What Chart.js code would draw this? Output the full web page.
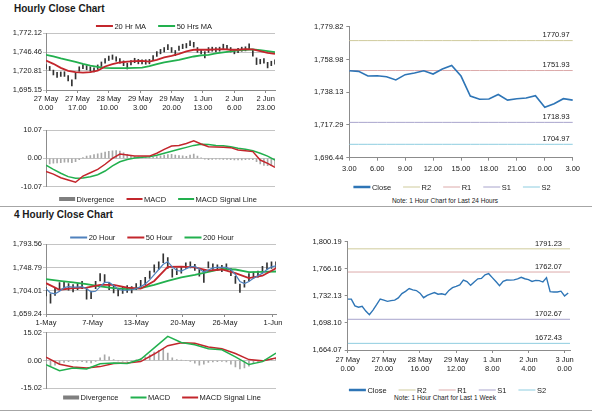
<!DOCTYPE html>
<html>
<head>
<meta charset="utf-8">
<script src="https://cdn.jsdelivr.net/npm/chart.js@4.4.0/dist/chart.umd.min.js"></script>
<style>
  body { margin: 0; background: #fff; }
  #wrap { position: relative; width: 600px; height: 413px; overflow: hidden; font-family: "Liberation Sans", Arial, sans-serif; color: #1a1a1a; }
  canvas { position: absolute; left: 0; top: 0; }
  .title { position: absolute; left: 14px; font-weight: bold; font-size: 10px; line-height: 12px; }
  .note { position: absolute; font-size: 6.5px; line-height: 8px; transform: translateX(-50%); white-space: nowrap; }
  .rule { position: absolute; left: 0; width: 592px; height: 1px; background: #a6a6a6; }
</style>
</head>
<body>
<div id="wrap">
  <div class="title" style="top:3px">Hourly Close Chart</div>
  <div class="title" style="top:209px">4 Hourly Close Chart</div>
  <div class="note" style="left:445px;top:197px">Note: 1 Hour Chart for Last 24 Hours</div>
  <div class="note" style="left:445px;top:394px">Note: 1 Hour Chart for Last 1 Week</div>
  <div class="rule" style="top:206px"></div>
  <div class="rule" style="top:410px"></div>
  <canvas id="tlPrice" width="600" height="413"></canvas>
  <canvas id="tlMacd" width="600" height="413"></canvas>
  <canvas id="trClose" width="600" height="413"></canvas>
  <canvas id="blPrice" width="600" height="413"></canvas>
  <canvas id="blMacd" width="600" height="413"></canvas>
  <canvas id="brClose" width="600" height="413"></canvas>
</div>
<script>
// ---- hourly (top left), one bar every 2 hours, MAs every 4 hours
const tlTickIdx = [0, 17, 34, 51, 68, 85, 102, 119];
const tlTickLabels = ['27 May|0.00', '27 May|17.00', '28 May|10.00', '29 May|3.00', '29 May|20.00', '1 Jun|13.00', '2 Jun|6.00', '2 Jun|23.00'];
const tlPriceTicks = [1695.15, 1720.81, 1746.46, 1772.12];
const tlHigh = [1729.5,1727.0,1722.0,1719.0,1719.5,1719.8,1714.5,1709.0,1718.0,1726.5,
  1729.5,1728.0,1726.5,1725.0,1729.0,1733.0,1737.5,1741.0,1742.5,1740.0,
  1737.5,1734.5,1731.5,1735.0,1738.0,1736.5,1736.0,1736.0,1736.5,1741.5,
  1747.0,1750.0,1752.5,1756.5,1752.5,1748.5,1754.5,1757.0,1758.0,1761.5,
  1759.5,1752.5,1750.0,1747.0,1752.5,1753.0,1752.5,1753.0,1757.0,1755.5,
  1752.5,1750.0,1751.5,1753.0,1753.5,1757.5,1750.0,1738.5,1736.5,1737.5,
  1732.5,1734.0,1736.0];
const tlLow = [1723.5,1721.5,1715.5,1712.0,1713.5,1713.5,1707.5,1700.5,1710.0,1720.5,
  1724.0,1722.5,1720.5,1719.5,1723.0,1727.0,1731.5,1735.0,1736.5,1734.0,
  1731.5,1728.0,1723.5,1729.0,1732.0,1730.5,1730.5,1730.0,1730.5,1735.0,
  1740.5,1744.0,1746.5,1749.5,1746.0,1741.5,1748.5,1751.0,1752.0,1755.0,
  1753.0,1746.0,1744.0,1738.5,1746.0,1747.5,1746.5,1747.5,1751.0,1749.5,
  1746.5,1744.0,1745.5,1747.5,1748.0,1750.5,1741.0,1729.5,1730.5,1731.5,
  1725.0,1728.0,1730.0];
const tlMa20 = [1735.0,1730.5,1725.0,1721.0,1719.2,1718.7,1719.2,1721.4,1726.9,1730.0,
  1732.3,1733.6,1734.1,1734.5,1733.6,1735.9,1739.1,1741.3,1744.0,1747.2,
  1749.5,1749.5,1749.5,1749.9,1750.4,1749.5,1749.5,1750.4,1749.9,1747.7,
  1745.4,1744.0];
const tlMa50 = [1742.7,1740.4,1737.7,1735.5,1733.2,1730.5,1728.2,1726.4,1725.0,1724.6,
  1724.6,1724.6,1725.0,1725.5,1727.3,1730.0,1732.3,1734.1,1735.9,1738.2,
  1740.4,1741.8,1742.7,1744.5,1745.9,1747.2,1748.6,1749.5,1749.9,1749.0,
  1747.7,1746.3];
const tlMacdTicks = [-10.07, 0, 10.07];
const tlMacd = [-4.7,-5.6,-6.9,-7.7,-8.5,-6.3,-5.1,-3.9,-2.1,0.0,
  1.5,1.2,0.8,0.8,0.8,1.8,3.2,4.4,4.6,5.3,
  6.2,5.1,4.1,4.0,3.9,3.8,3.0,2.7,2.4,-0.6,
  -1.8,-3.2];
const tlSignal = [-2.4,-3.9,-5.3,-6.5,-7.1,-7.0,-6.5,-5.8,-4.5,-2.7,
  -1.2,-0.4,0.1,0.4,0.6,1.1,1.8,2.5,3.2,3.9,
  4.6,5.0,4.9,4.6,4.5,4.1,3.6,3.2,2.7,1.8,
  0.8,-0.6];
const tlDiv = [-2.3,-2.0,-1.7,-1.6,-1.5,-1.4,-1.4,-1.5,-1.2,-0.5,
  0.3,0.8,1.0,1.3,1.6,1.9,2.2,2.5,2.7,2.8,
  2.6,2.0,1.4,0.9,0.6,0.5,0.4,0.3,0.3,0.4,
  0.6,0.9,1.2,1.3,1.4,1.2,1.0,0.9,0.7,1.2,
  1.5,0.8,0.2,-0.3,-0.5,-0.4,-0.3,-0.3,-0.4,-0.4,
  -0.5,-0.6,-0.6,-0.6,-0.5,-0.4,-0.5,-1.2,-2.0,-2.5,
  -2.6,-2.6,-2.6];

// ---- last 24 hours (top right)
const trHours = ['3.00','4.00','5.00','6.00','7.00','8.00','9.00','10.00','11.00','12.00','13.00','14.00',
  '15.00','16.00','17.00','18.00','19.00','20.00','21.00','22.00','23.00','0.00','1.00','2.00','3.00'];
const trClose = [1751.8,1751.4,1748.4,1748.6,1748.0,1745.9,1749.3,1750.3,1751.8,1749.7,1752.9,1755.2,
  1748.4,1735.7,1733.6,1733.8,1736.7,1733.1,1734.0,1734.4,1735.9,1728.5,1730.8,1734.0,1733.1];
const trTicks = [1696.44, 1717.29, 1738.13, 1758.98, 1779.82];
const trLevels = [1770.97, 1751.93, 1718.93, 1704.97]; // R2 R1 S1 S2

// ---- 4 hourly (bottom left), bars every 3 steps, MAs every 9 steps
const blTickIdx = [0, 31, 60, 91, 119, 151];
const blTickLabels = ['1-May', '7-May', '13-May', '20-May', '26-May', '1-Jun'];
const blPriceTicks = [1659.24, 1704.01, 1748.79, 1793.56];
const blHigh = [1710,1698,1710,1720,1721,1718,1716,1718,1722,1708,1703,1722,1737,1735,1720,1713,1708,1712,1714,1712,
  1718,1724,1730,1742,1754,1760,1775,1768,1746,1747,1750,1758,1760,1755,1745,1745,1760,1756,1754,1753,
  1756,1747,1732,1717,1724,1737,1740,1742,1751,1758,1760,1760];
const blLow = [1694,1680,1695,1707,1709,1705,1702,1706,1708,1688,1689,1708,1723,1721,1706,1700,1694,1699,1701,1700,
  1706,1711,1716,1728,1740,1745,1758,1747,1730,1735,1738,1747,1748,1743,1732,1720,1748,1745,1743,1741,
  1744,1733,1718,1701,1711,1723,1728,1730,1738,1745,1747,1749];
const bl20 = [1708,1700,1698,1703,1710,1712,1711,1711,1712,1708,1702,1703,1712,1720,1720,1714,1707,1705,1705,1706,
  1708,1712,1717,1725,1735,1745,1755,1760,1750,1743,1742,1746,1750,1751,1746,1740,1744,1748,1749,1749,
  1749,1745,1735,1722,1718,1722,1728,1733,1738,1745,1750,1752];
const bl50 = [1718.7,1706,1709,1710,1715.5,1715.5,1710,1708,1723,1750,1750.7,1749,1743,1745,1738,1728.3,1733,1747.5];
const bl200 = [1726.4,1723.2,1720,1716.7,1712.3,1709,1707.2,1709,1715.5,1723,1729.6,1734.5,1740.5,1746,1745,1740,1740.5,1741.1];
const blMacdTicks = [-15.02, 0, 15.02];
const blMacd = [-2.3,-5.5,-4.1,-4.6,-1.8,-1.3,-1.6,0.7,6.8,13.0,9.7,8.5,6.4,5.8,2.0,-2.2,-0.6,4.0];
const blSignal = [1.8,-2.0,-3.5,-4.0,-3.3,-1.6,-1.4,-0.6,3.5,8.0,9.6,9.3,7.3,6.3,3.8,0.5,-0.2,1.3];
const blDiv = [-3,-3.2,-2.5,-1.8,-1.0,-0.6,-0.4,-0.3,-0.6,-1.0,
  -1.3,-0.5,1.5,3.0,2.0,0.5,-0.2,-0.3,-0.3,-0.2,
  0.3,1.0,2.0,3.0,4.5,5.5,6.0,4.0,1.5,0.5,
  0.2,0.0,-0.5,-1.5,-2.5,-2.0,-1.0,-0.8,-0.6,-0.5,
  -0.8,-2.0,-3.5,-4.5,-4.0,-3.0,-1.5,-0.5,0.0,0.5,
  1.0,1.5];

// ---- last week (bottom right), close every 2 hours
const brTickIdx = [0, 20, 40, 60, 80, 100, 120];
const brTickLabels = ['27 May|0.00', '27 May|20.00', '28 May|16.00', '29 May|12.00', '1 Jun|8.00', '2 Jun|4.00', '3 Jun|0.00'];
const brClose = [1728.0,1728.0,1719.5,1717.9,1719.0,1713.0,1708.5,1714.2,1721.0,1728.2,
  1726.8,1725.2,1726.2,1726.8,1729.5,1735.0,1737.8,1741.3,1739.6,1738.8,
  1735.5,1729.8,1732.6,1734.6,1736.3,1734.2,1734.7,1733.6,1739.0,1742.5,
  1744.1,1746.0,1752.0,1750.0,1745.3,1749.5,1753.5,1754.0,1758.5,1760.0,
  1755.0,1750.1,1745.0,1750.5,1752.0,1751.9,1752.2,1753.5,1755.4,1753.6,
  1752.5,1750.3,1751.5,1751.3,1749.5,1755.0,1737.5,1737.0,1737.0,1738.0,
  1732.0,1735.8];
const brTicks = [1664.07, 1698.10, 1732.13, 1766.16, 1800.19];
const brLevels = [1791.23, 1762.07, 1702.67, 1672.43];

const levelNames = ['R2', 'R1', 'S1', 'S2'];
const levelColors = ['#cfcb9c', '#dcaaaa', '#a8a4cc', '#8ecde0'];

const RED = '#c3262c', GREEN = '#22b04e', BLUE = '#2e75b6', LIGHTBLUE = '#4f81bd';
const AXIS = '#8c8c8c', GRID = '#c4c4c4';
const FONT = '"Liberation Sans", Arial, sans-serif';

Chart.defaults.font.family = FONT;
Chart.defaults.font.size = 7.5;
Chart.defaults.color = '#1a1a1a';
Chart.defaults.animation = false;
Chart.defaults.plugins.legend.display = false;
Chart.defaults.plugins.tooltip.enabled = false;

const fmt = v => Number(v).toLocaleString('en-US', { minimumFractionDigits: 2, maximumFractionDigits: 2 });
const pts = (vals, step) => vals.map((v, i) => ({ x: i * step, y: v }));
const spans = (lo, hi, step) => lo.map((v, i) => ({ x: i * step, y: [v, hi[i]] }));

// legend drawn as one row of line/box samples
const rowLegend = {
  id: 'rowLegend',
  afterDraw(chart, args, o) {
    if (o.cy == null) return;
    const ctx = chart.ctx;
    const items = chart.data.datasets.filter(d => d.label);
    ctx.save();
    ctx.font = '7.5px ' + FONT;
    ctx.textBaseline = 'middle';
    const L = o.lineLen || 17, gap = 1.5, sep = o.sep || 12;
    const w = items.map(d => L + gap + ctx.measureText(d.label).width);
    let x = o.cx - (w.reduce((a, b) => a + b, 0) + sep * (items.length - 1)) / 2;
    items.forEach((d, i) => {
      const c = d.legendColor || d.borderColor;
      if (d.type === 'bar') {
        ctx.fillStyle = c;
        ctx.fillRect(x, o.cy - 2, L, 4);
      } else {
        ctx.strokeStyle = c;
        ctx.lineWidth = d.legendWidth || 2;
        ctx.beginPath();
        ctx.moveTo(x, o.cy);
        ctx.lineTo(x + L, o.cy);
        ctx.stroke();
      }
      ctx.fillStyle = '#1a1a1a';
      ctx.fillText(d.label, x + L + gap, o.cy + 0.5);
      x += w[i] + sep;
    });
    ctx.restore();
  }
};

// value written above each support / resistance line
const levelLabels = {
  id: 'levelLabels',
  afterDatasetsDraw(chart, args, o) {
    if (!o.values) return;
    const { ctx, chartArea } = chart, y = chart.scales.y;
    ctx.save();
    ctx.font = '7.5px ' + FONT;
    ctx.textAlign = 'right';
    ctx.textBaseline = 'bottom';
    ctx.fillStyle = '#1a1a1a';
    o.values.forEach(v => ctx.fillText(v.toFixed(2), chartArea.right - o.inset, y.getPixelForValue(v) - 1.5));
    ctx.restore();
  }
};

function yScale(ticks, grid, pad) {
  return {
    type: 'linear', min: ticks[0], max: ticks[ticks.length - 1],
    afterBuildTicks: s => { s.ticks = ticks.map(v => ({ value: v })); },
    afterFit: s => { s.width = 40; },
    border: { color: AXIS },
    grid: { color: GRID, drawOnChartArea: grid, tickLength: 3, tickColor: grid ? GRID : AXIS },
    ticks: { padding: pad, callback: v => fmt(v) }
  };
}

function xIndex(max, idx, labels, pad) {
  return {
    type: 'linear', min: 0, max, offset: false,
    afterBuildTicks: s => { s.ticks = idx.map(v => ({ value: v })); },
    afterFit: s => { s.height = 25; },
    border: { color: AXIS },
    grid: { drawOnChartArea: false, tickLength: 3, tickColor: AXIS, offset: false },
    ticks: { padding: pad, maxRotation: 0, autoSkip: false, callback: v => labels[idx.indexOf(v)].split('|') }
  };
}

function pad(box, xh) {
  return { left: box.l - 40, top: box.t, right: 600 - box.r, bottom: 413 - box.b - xh };
}

// horizontal support/resistance lines, given as the points the line passes
function levelSets(levels, xs) {
  return levels.map((v, i) => ({
    type: 'line', label: levelNames[i], data: xs.map(x => (x === null ? v : { x, y: v })),
    borderColor: levelColors[i], borderWidth: 1, legendWidth: 1, pointRadius: 0
  }));
}

// top left price
new Chart(document.getElementById('tlPrice'), {
  type: 'line',
  data: { datasets: [
    { label: '20 Hr MA', data: pts(tlMa20, 4), borderColor: RED, borderWidth: 1.8, pointRadius: 0 },
    { label: '50 Hrs MA', data: pts(tlMa50, 4), borderColor: GREEN, borderWidth: 1.8, pointRadius: 0 },
    { type: 'bar', data: spans(tlLow, tlHigh, 2), backgroundColor: '#333', barThickness: 1 }
  ]},
  options: {
    responsive: false,
    layout: { padding: pad({ l: 46, t: 33, r: 275, b: 90 }, 25) },
    scales: { x: xIndex(124, tlTickIdx, tlTickLabels, 1.5), y: yScale(tlPriceTicks, true, 1) },
    plugins: { rowLegend: { cx: 154, cy: 26 } }
  },
  plugins: [rowLegend]
});

// top left MACD
new Chart(document.getElementById('tlMacd'), {
  type: 'line',
  data: { datasets: [
    { type: 'bar', label: 'Divergence', data: pts(tlDiv, 2), backgroundColor: '#a8a8a8', legendColor: '#7f7f7f', barThickness: 1, order: 3 },
    { label: 'MACD', data: pts(tlMacd, 4), borderColor: RED, borderWidth: 1.5, pointRadius: 0, order: 1 },
    { label: 'MACD Signal Line', data: pts(tlSignal, 4), borderColor: GREEN, borderWidth: 1.5, pointRadius: 0, order: 2 }
  ]},
  options: {
    responsive: false,
    layout: { padding: pad({ l: 46, t: 130, r: 275, b: 186.7 }, 0) },
    scales: { x: { type: 'linear', min: 0, max: 124, display: false, offset: false }, y: yScale(tlMacdTicks, true, 1) },
    plugins: { rowLegend: { cx: 158, cy: 199, lineLen: 16 } }
  },
  plugins: [rowLegend]
});

// top right, last 24 hours (category axis: one value per hour label)
new Chart(document.getElementById('trClose'), {
  type: 'line',
  data: { labels: trHours, datasets: [
    { label: 'Close', data: trClose, borderColor: BLUE, borderWidth: 1.6, legendWidth: 2.5, pointRadius: 0 },
    ...levelSets(trLevels, trHours.map(() => null))
  ]},
  options: {
    responsive: false,
    layout: { padding: pad({ l: 349.3, t: 26.7, r: 572.7, b: 157.7 }, 25) },
    scales: {
      x: {
        type: 'category', offset: false,
        afterBuildTicks: s => { s.ticks = s.ticks.filter(t => t.value % 3 === 0); },
        afterFit: s => { s.height = 25; },
        border: { color: AXIS },
        grid: { drawOnChartArea: false, tickLength: 3, tickColor: AXIS, offset: false },
        ticks: { padding: 4, maxRotation: 0, autoSkip: false }
      },
      y: yScale(trTicks, false, 3)
    },
    plugins: { rowLegend: { cx: 452, cy: 187 }, levelLabels: { values: trLevels, inset: 3 } }
  },
  plugins: [rowLegend, levelLabels]
});

// bottom left price
new Chart(document.getElementById('blPrice'), {
  type: 'line',
  data: { datasets: [
    { label: '20 Hour', data: pts(bl20, 3), borderColor: LIGHTBLUE, borderWidth: 1.2, pointRadius: 0 },
    { label: '50 Hour', data: pts(bl50, 9), borderColor: RED, borderWidth: 1.8, pointRadius: 0 },
    { label: '200 Hour', data: pts(bl200, 9), borderColor: GREEN, borderWidth: 1.8, pointRadius: 0 },
    { type: 'bar', data: spans(blLow, blHigh, 3), backgroundColor: '#333', barThickness: 1 }
  ]},
  options: {
    responsive: false,
    layout: { padding: pad({ l: 46, t: 244.3, r: 276, b: 314 }, 25) },
    scales: { x: xIndex(153, blTickIdx, blTickLabels, 1), y: yScale(blPriceTicks, true, 1) },
    plugins: { rowLegend: { cx: 152, cy: 237.5 } }
  },
  plugins: [rowLegend]
});

// bottom left MACD
new Chart(document.getElementById('blMacd'), {
  type: 'line',
  data: { datasets: [
    { type: 'bar', label: 'Divergence', data: pts(blDiv, 3), backgroundColor: '#a8a8a8', legendColor: '#7f7f7f', barThickness: 1, order: 3 },
    { label: 'MACD', data: pts(blMacd, 9), borderColor: GREEN, borderWidth: 1.5, pointRadius: 0, order: 1 },
    { label: 'MACD Signal Line', data: pts(blSignal, 9), borderColor: RED, borderWidth: 1.5, pointRadius: 0, order: 2 }
  ]},
  options: {
    responsive: false,
    layout: { padding: pad({ l: 46, t: 332.7, r: 276, b: 388.3 }, 0) },
    scales: { x: { type: 'linear', min: 0, max: 153, display: false, offset: false }, y: yScale(blMacdTicks, true, 1) },
    plugins: { rowLegend: { cx: 162, cy: 397.5, lineLen: 16 } }
  },
  plugins: [rowLegend]
});

// bottom right, last week
new Chart(document.getElementById('brClose'), {
  type: 'line',
  data: { datasets: [
    { label: 'Close', data: pts(brClose, 2), borderColor: BLUE, borderWidth: 1.4, legendWidth: 2.5, pointRadius: 0 },
    ...levelSets(brLevels, [0, 123])
  ]},
  options: {
    responsive: false,
    layout: { padding: pad({ l: 347.7, t: 241.7, r: 570, b: 350 }, 25) },
    scales: { x: xIndex(123, brTickIdx, brTickLabels, 2.5), y: yScale(brTicks, false, 3) },
    plugins: { rowLegend: { cx: 447.5, cy: 390 }, levelLabels: { values: brLevels, inset: 8 } }
  },
  plugins: [rowLegend, levelLabels]
});
</script>
</body>
</html>
